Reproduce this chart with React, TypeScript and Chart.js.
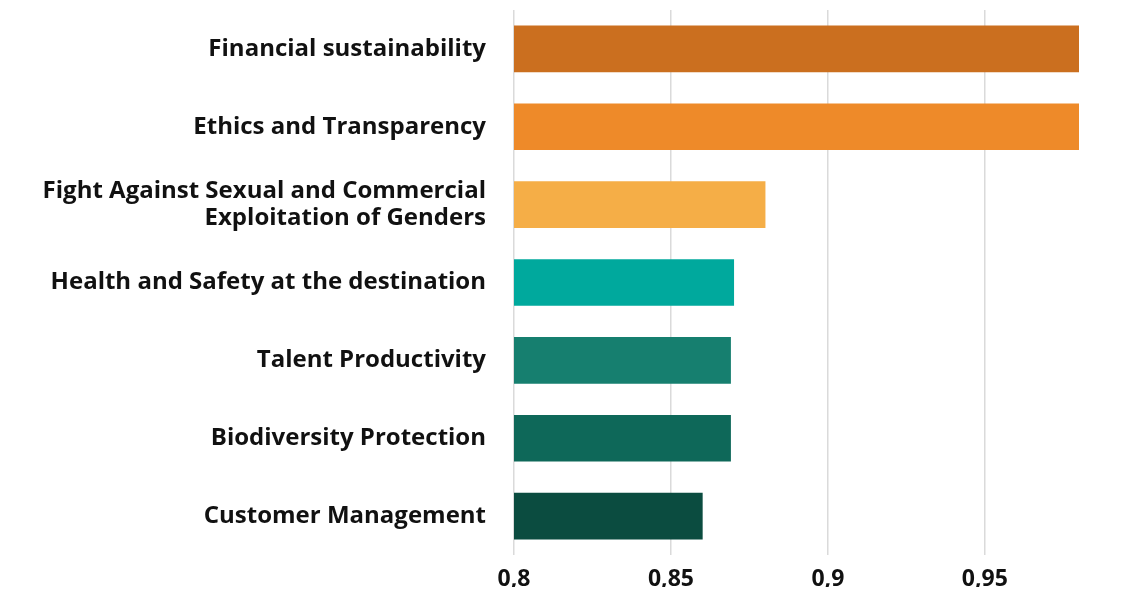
import { useEffect, useRef } from "react";
import { Chart, registerables } from "chart.js";

Chart.register(...registerables);

const categories: (string | string[])[] = [
  "Financial sustainability",
  "Ethics and Transparency",
  ["Fight Against Sexual and Commercial", "Exploitation of Genders"],
  "Health and Safety at the destination",
  "Talent Productivity",
  "Biodiversity Protection",
  "Customer Management",
];

const values: number[] = [0.98, 0.98, 0.88, 0.87, 0.869, 0.869, 0.86];

const barColors: string[] = [
  "#CB6F1F",
  "#EE8A29",
  "#F5AE47",
  "#00A99D",
  "#167F6F",
  "#0E6859",
  "#0B4C40",
];

const xTicks: number[] = [0.8, 0.85, 0.9, 0.95];

export default function App() {
  const ref = useRef<HTMLCanvasElement | null>(null);

  useEffect(() => {
    if (!ref.current) return;
    const chart = new Chart(ref.current, {
      type: "bar",
      data: {
        labels: categories,
        datasets: [
          {
            data: values,
            backgroundColor: barColors,
            borderWidth: 0,
            barThickness: 46,
          },
        ],
      },
      options: {
        indexAxis: "y",
        animation: false,
        responsive: false,
        layout: { padding: { top: 2, right: 46, bottom: 0, left: 0 } },
        plugins: { legend: { display: false }, tooltip: { enabled: false } },
        scales: {
          x: {
            min: 0.8,
            max: 0.98,
            afterBuildTicks: (scale: any) => {
              scale.ticks = xTicks.map((v) => ({ value: v }));
            },
            afterFit: (scale: any) => {
              scale.height = 32;
              scale.paddingLeft = 0;
              scale.paddingRight = 0;
            },
            ticks: {
              includeBounds: false,
              padding: 11,
              color: "#111",
              font: { family: "'Open Sans'", size: 23, weight: "bold" },
              callback: (v: any) => String(Math.round(Number(v) * 100) / 100).replace(".", ","),
            },
            grid: { color: "#DADADA", lineWidth: 1.5, drawTicks: false },
            border: { display: false },
          },
          y: {
            afterFit: (scale: any) => {
              scale.width = 506;
              scale.paddingTop = 0;
              scale.paddingBottom = 0;
            },
            ticks: {
              padding: 20,
              color: "#111",
              font: { family: "'Open Sans'", size: 24, weight: "bold", lineHeight: 1.12 },
            },
            grid: { display: false },
            border: { display: false },
          },
        },
      },
    });
    return () => chart.destroy();
  }, []);

  return <canvas ref={ref} width={1117} height={579} style={{ display: "block" }} />;
}
